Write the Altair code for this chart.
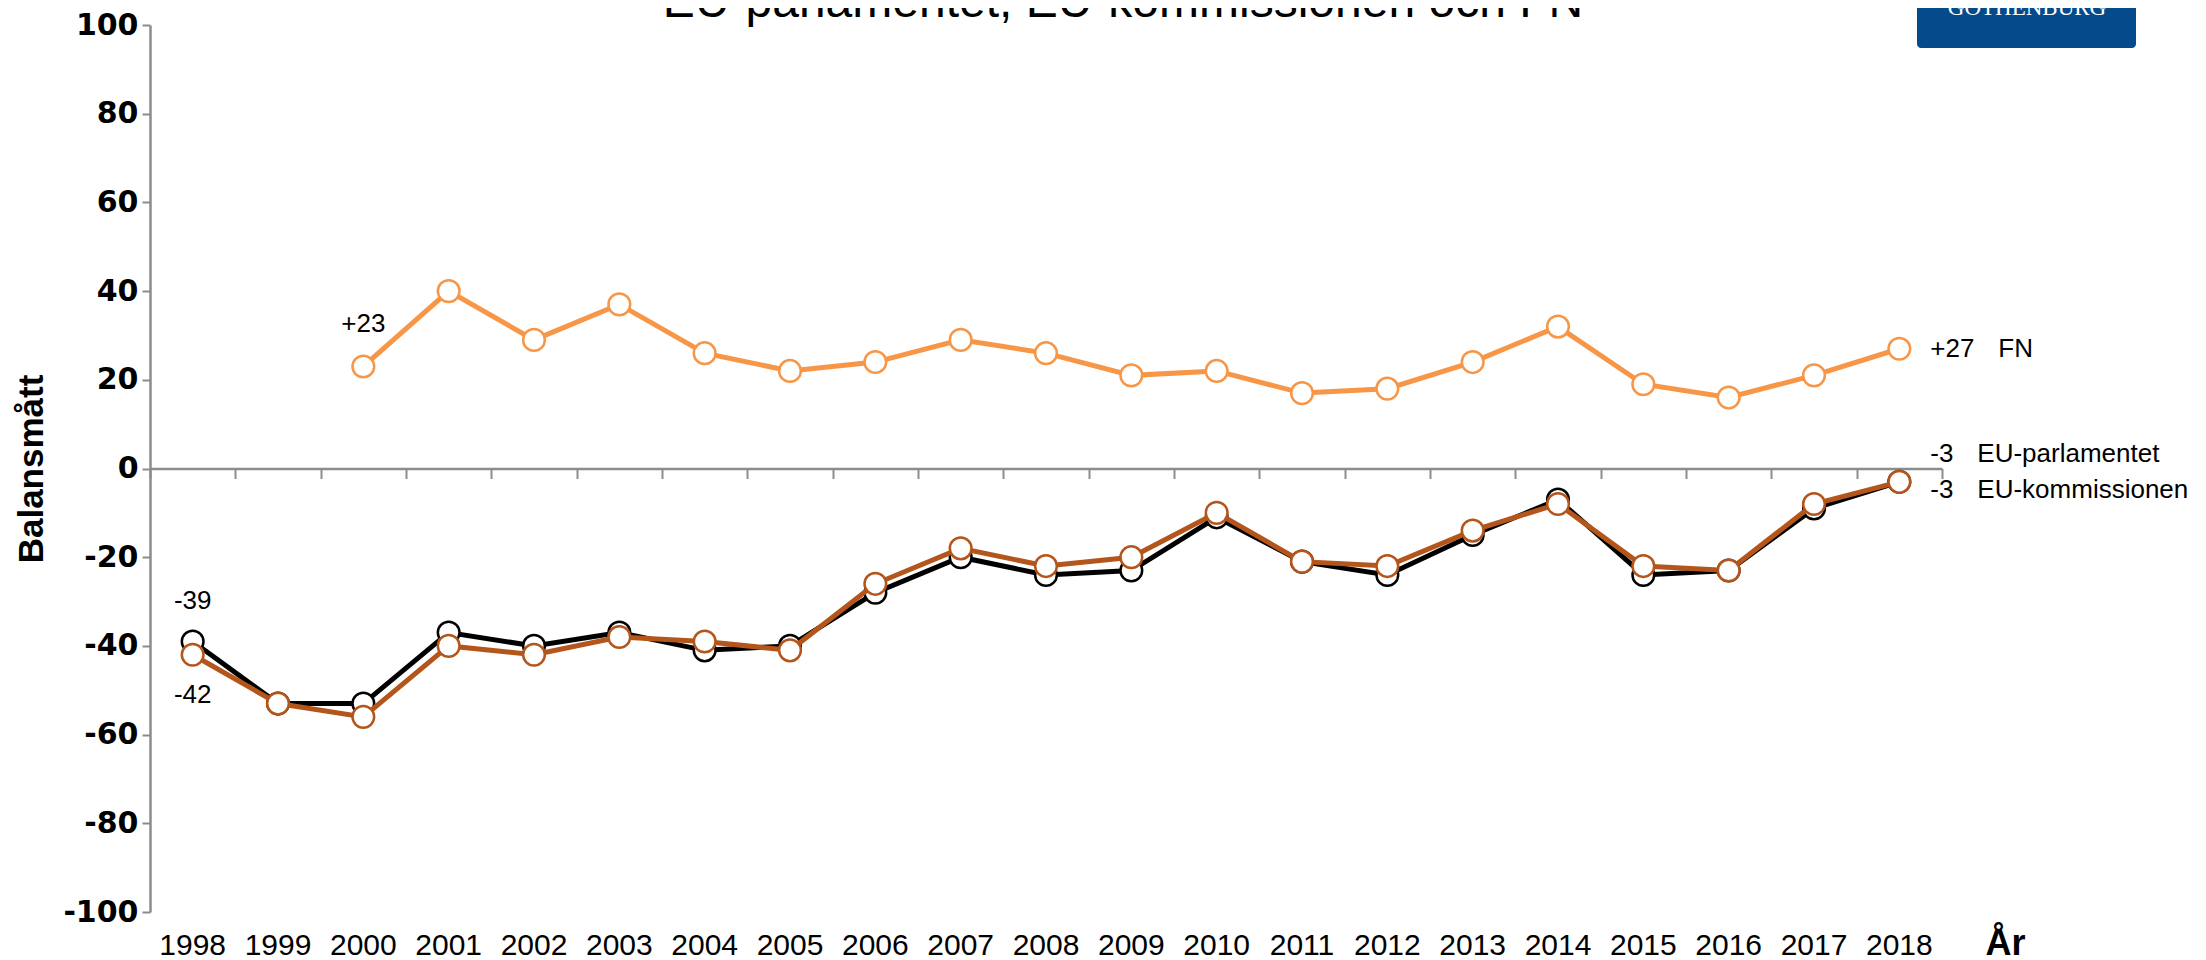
import altair as alt
import pandas as pd

# ---------------- data ----------------
years = ["1998", "1999", "2000", "2001", "2002", "2003", "2004", "2005", "2006", "2007",
         "2008", "2009", "2010", "2011", "2012", "2013", "2014", "2015", "2016", "2017", "2018"]
fn_values = [None, None, 23, 40, 29, 37, 26, 22, 24, 29, 26, 21, 22, 17, 18, 24, 32, 19, 16, 21, 27]
eu_parlamentet = [-39, -53, -53, -37, -40, -37, -41, -40, -28, -20, -24, -23, -11, -21, -24, -15, -7, -24, -23, -9, -3]
eu_kommissionen = [-42, -53, -56, -40, -42, -38, -39, -41, -26, -18, -22, -20, -10, -21, -22, -14, -8, -22, -23, -8, -3]
y_ticks = [-100, -80, -60, -40, -20, 0, 20, 40, 60, 80, 100]

TITLE = "EU-parlamentet, EU-kommissionen och FN"
LOGO = "GOTHENBURG"

FN_COLOR = "#F79646"
KOMM_COLOR = "#B4561C"
PARL_COLOR = "#000000"
GRAY = "#8C8C8C"
SANS = "Liberation Sans, Arial, sans-serif"

W, H = 1792, 887


def series_df(vals):
    return pd.DataFrame({
        "year": [y for y, v in zip(years, vals) if v is not None],
        "value": [v for v in vals if v is not None],
    })


xscale = alt.Scale(type="band", domain=years, paddingInner=0, paddingOuter=0)
yscale = alt.Scale(domain=[-100, 100], nice=False, zero=False)

label_axis = alt.Axis(
    orient="bottom", title="År", labelAngle=0, labelFont=SANS, labelFontSize=30,
    labelColor="black", labelPadding=18, domain=False, ticks=False, grid=False,
    titleFont=SANS, titleFontSize=36, titleFontWeight="bold", titleColor="black",
    titleX=1855, titleY=42, titleBaseline="alphabetic", titleAlign="center",
)
zero_axis = alt.Axis(
    orient="bottom", offset=-443.5, labels=False, title=None, domain=True,
    domainColor=GRAY, domainWidth=2.5, ticks=True, tickBand="extent", tickSize=10,
    tickColor=GRAY, tickWidth=2, grid=False,
)
y_axis = alt.Axis(
    values=y_ticks, labelExpr="datum.value + ''",
    labelFont="DejaVu Sans", labelFontWeight="bold", labelFontSize=30,
    labelColor="black", labelPadding=4, tickSize=8, tickColor=GRAY, tickWidth=2,
    domainColor=GRAY, domainWidth=2.5, grid=False,
    title="Balansmått", titleFont=SANS, titleFontSize=35, titleFontWeight="bold",
    titleColor="black", titleX=-119, titleY=443.5, titleAngle=270,
    titleBaseline="middle", titleAlign="center",
)


def series_layers(vals, color, xaxis=None):
    base = alt.Chart(series_df(vals))
    line = base.mark_line(color=color, strokeWidth=5).encode(
        x=alt.X("year:O", scale=xscale, axis=xaxis),
        y=alt.Y("value:Q", scale=yscale, axis=y_axis),
    )
    pts = base.mark_point(shape="circle", filled=True, fill="white", stroke=color,
                          strokeWidth=2.5, size=470, opacity=1).encode(
        x=alt.X("year:O", scale=xscale, axis=None),
        y=alt.Y("value:Q", scale=yscale, axis=y_axis),
    )
    return [line, pts]


def label(year, value, text, dx, dy, align):
    df = pd.DataFrame({"year": [year], "value": [value], "t": [text]})
    return alt.Chart(df).mark_text(
        font=SANS, fontSize=26, color="black", align=align, baseline="middle", dx=dx, dy=dy
    ).encode(
        x=alt.X("year:O", scale=xscale, axis=None),
        y=alt.Y("value:Q", scale=yscale, axis=y_axis),
        text="t:N",
    )


def fmt(v):
    return f"+{v}" if v > 0 else str(v)


layers = []
layers += series_layers(eu_parlamentet, PARL_COLOR, xaxis=zero_axis)
layers += series_layers(eu_kommissionen, KOMM_COLOR)
layers += series_layers(fn_values, FN_COLOR, xaxis=label_axis)

# start / end labels
layers.append(label(years[2], fn_values[2], fmt(fn_values[2]), 0, -42, "center"))
layers.append(label(years[0], eu_parlamentet[0], fmt(eu_parlamentet[0]), 0, -40, "center"))
layers.append(label(years[0], eu_kommissionen[0], fmt(eu_kommissionen[0]), 0, 40, "center"))
layers.append(label(years[-1], fn_values[-1], fmt(fn_values[-1]), 31, 0, "left"))
layers.append(label(years[-1], fn_values[-1], "FN", 99, 0, "left"))
layers.append(label(years[-1], eu_parlamentet[-1], fmt(eu_parlamentet[-1]), 31, -28, "left"))
layers.append(label(years[-1], eu_parlamentet[-1], "EU-parlamentet", 78, -28, "left"))
layers.append(label(years[-1], eu_kommissionen[-1], fmt(eu_kommissionen[-1]), 31, 8, "left"))
layers.append(label(years[-1], eu_kommissionen[-1], "EU-kommissionen", 78, 8, "left"))

# cut-off title at top
layers.append(
    alt.Chart(pd.DataFrame({"t": [TITLE]})).mark_text(
        font=SANS, fontSize=48, color="black", align="center", baseline="alphabetic"
    ).encode(text="t:N", x=alt.value(973), y=alt.value(-8))
)
# logo box
layers.append(
    alt.Chart(pd.DataFrame({"a": [0]})).mark_rect(color="#054A8B", cornerRadius=4).encode(
        x=alt.value(1767), x2=alt.value(1986), y=alt.value(-45), y2=alt.value(23)
    )
)
layers.append(
    alt.Chart(pd.DataFrame({"t": [LOGO]})).mark_text(
        font="Liberation Serif, Times New Roman, serif", fontSize=23, color="white",
        align="center", baseline="alphabetic"
    ).encode(text="t:N", x=alt.value(1877), y=alt.value(-10))
)

chart = alt.layer(*layers).resolve_axis(x="independent").properties(
    width=W, height=H,
    autosize=alt.AutoSizeParams(type="none"),
    padding={"left": 142, "top": 17, "right": 256, "bottom": 49},
).configure_view(stroke="transparent")

chart.save("out.html", embed_options={"renderer": "svg", "actions": False})
